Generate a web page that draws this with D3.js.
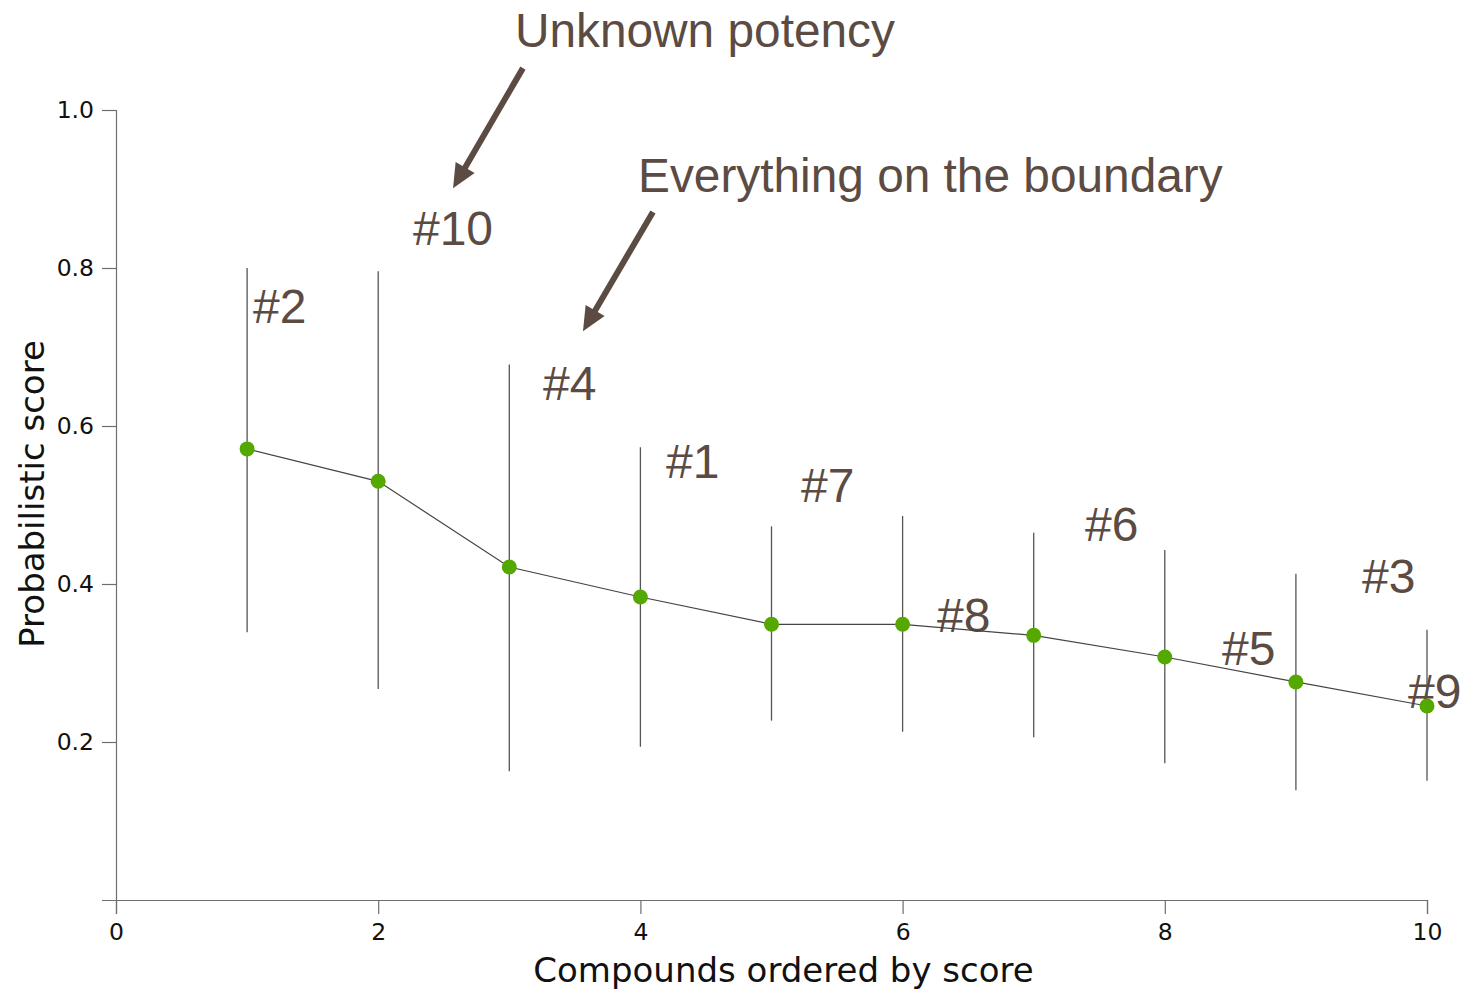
<!DOCTYPE html>
<html>
<head>
<meta charset="utf-8">
<script src="https://cdn.jsdelivr.net/npm/d3@7"></script>
<style>
  html, body { margin: 0; padding: 0; background: #fff; }
  svg { display: block; }
</style>
</head>
<body>
<svg id="chart" width="1470" height="990"></svg>
<script>
// Compound ranking: mean probabilistic score with uncertainty interval
const ranks = [1, 2, 3, 4, 5, 6, 7, 8, 9, 10];
const scores = [0.571, 0.530, 0.4215, 0.3835, 0.349, 0.349, 0.335, 0.3076, 0.276, 0.2456];
const upper = [0.800, 0.796, 0.678, 0.573, 0.473, 0.486, 0.465, 0.443, 0.413, 0.342];
const lower = [0.339, 0.267, 0.163, 0.194, 0.227, 0.213, 0.206, 0.173, 0.139, 0.151];

// Compound identifiers placed near each interval (x, y in data units)
const idLabels = ["#2", "#10", "#4", "#1", "#7", "#8", "#6", "#5", "#3", "#9"];
const idX = [1.045, 2.265, 3.257, 4.195, 5.225, 6.262, 7.391, 8.436, 9.504, 9.855];
const idY = [0.730, 0.829, 0.633, 0.534, 0.504, 0.339, 0.454, 0.297, 0.389, 0.243];

// Call-outs
const noteText = ["Unknown potency", "Everything on the boundary"];
const noteX = [3.043, 3.982];
const noteY = [1.080, 0.896];
const arrowFrom = [[3.104, 1.053], [4.096, 0.871]];
const arrowTo = [[2.571, 0.901], [3.562, 0.720]];

const xTicks = [0, 2, 4, 6, 8, 10];
const yTicks = [0.2, 0.4, 0.6, 0.8, 1.0];

const svg = d3.select("#chart");
const x = d3.scaleLinear().domain([0, 10]).range([116, 1427]);
const y = d3.scaleLinear().domain([0, 1]).range([900, 110]);

const ink = "#5b4b43";
const axisFont = "'DejaVu Sans', Verdana, sans-serif";
const labelFont = "'Liberation Sans', Arial, sans-serif";

// Axes
const xAxis = svg.append("g")
  .attr("transform", `translate(0,${y(0)})`)
  .call(d3.axisBottom(x).tickValues(xTicks).tickSize(14).tickPadding(9).tickFormat(d3.format("d")));
const yAxis = svg.append("g")
  .attr("transform", `translate(${x(0)},0)`)
  .call(d3.axisLeft(y).tickValues(yTicks).tickSize(14).tickPadding(8).tickFormat(d3.format(".1f")));
[xAxis, yAxis].forEach(g => {
  g.select(".domain").attr("stroke", "#6e6e6e").attr("stroke-width", 1.2);
  g.selectAll(".tick line").attr("stroke", "#6e6e6e").attr("stroke-width", 1.2);
  g.selectAll(".tick text").attr("fill", "#111").style("font-family", axisFont).style("font-size", "23.5px");
});

svg.append("text")
  .attr("x", (x(0) + x(10)) / 2 + 12)
  .attr("y", 982)
  .attr("text-anchor", "middle")
  .style("font-family", axisFont)
  .style("font-size", "34px")
  .attr("fill", "#111")
  .text("Compounds ordered by score");

svg.append("text")
  .attr("transform", `translate(44,${(y(0) + y(1)) / 2 - 11}) rotate(-90)`)
  .attr("text-anchor", "middle")
  .style("font-family", axisFont)
  .style("font-size", "34px")
  .attr("fill", "#111")
  .text("Probabilistic score");

// Compound id labels (beneath marks)
svg.append("g").selectAll("text")
  .data(idLabels)
  .join("text")
  .attr("x", (d, i) => x(idX[i]))
  .attr("y", (d, i) => y(idY[i]))
  .style("font-family", labelFont)
  .style("font-size", "48px")
  .attr("fill", ink)
  .text(d => d);

// Interval bars
svg.append("g").selectAll("line")
  .data(ranks)
  .join("line")
  .attr("x1", d => x(d)).attr("x2", d => x(d))
  .attr("y1", (d, i) => y(upper[i]))
  .attr("y2", (d, i) => y(lower[i]))
  .attr("stroke", "#555")
  .attr("stroke-width", 1.3);

// Connecting line
const line = d3.line().x((d, i) => x(ranks[i])).y(d => y(d));
svg.append("path")
  .datum(scores)
  .attr("d", line)
  .attr("fill", "none")
  .attr("stroke", "#444")
  .attr("stroke-width", 1.2);

// Mean points
svg.append("g").selectAll("circle")
  .data(scores)
  .join("circle")
  .attr("cx", (d, i) => x(ranks[i]))
  .attr("cy", d => y(d))
  .attr("r", 7.5)
  .attr("fill", "#55a800");

// Call-out text and arrows
svg.append("g").selectAll("text")
  .data(noteText)
  .join("text")
  .attr("x", (d, i) => x(noteX[i]))
  .attr("y", (d, i) => y(noteY[i]))
  .style("font-family", labelFont)
  .style("font-size", "47.8px")
  .attr("fill", ink)
  .text(d => d);

const arrows = svg.append("g");
arrowFrom.forEach((from, i) => {
  const to = arrowTo[i];
  const x0 = x(from[0]), y0 = y(from[1]);
  const x1 = x(to[0]), y1 = y(to[1]);
  const dx = x1 - x0, dy = y1 - y0;
  const len = Math.hypot(dx, dy);
  const ux = dx / len, uy = dy / len;
  const headLen = 24, headHalf = 11;
  const bx = x1 - ux * headLen, by = y1 - uy * headLen;
  arrows.append("line")
    .attr("x1", x0).attr("y1", y0)
    .attr("x2", bx + ux * 2).attr("y2", by + uy * 2)
    .attr("stroke", ink)
    .attr("stroke-width", 6);
  arrows.append("path")
    .attr("d", `M${x1},${y1} L${bx - uy * headHalf},${by + ux * headHalf} L${bx + uy * headHalf},${by - ux * headHalf} Z`)
    .attr("fill", ink);
});
</script>
</body>
</html>
